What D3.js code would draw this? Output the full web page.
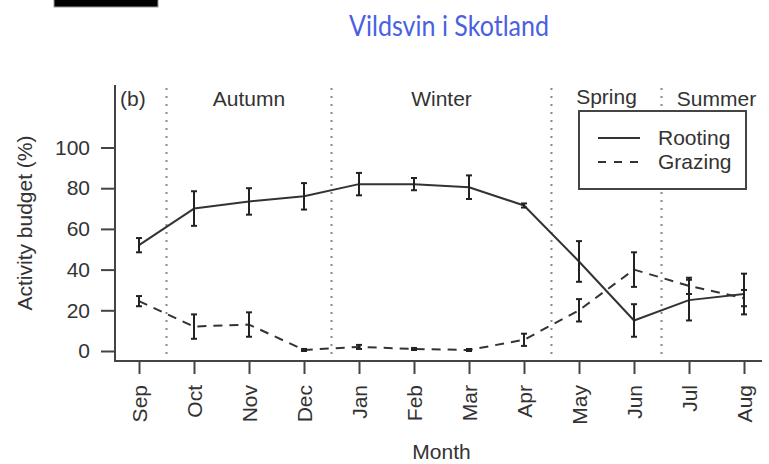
<!DOCTYPE html>
<html>
<head>
<meta charset="utf-8">
<script src="https://cdn.jsdelivr.net/npm/d3@7"></script>
<style>
  body { margin: 0; background: #fff; }
  svg text { font-family: "Liberation Sans", Arial, sans-serif; fill: #333; }
</style>
</head>
<body>
<div id="chart"></div>
<script>
// values (percent of activity budget)
const months = ["Sep", "Oct", "Nov", "Dec", "Jan", "Feb", "Mar", "Apr", "May", "Jun", "Jul", "Aug"];
const rooting = [52, 70, 73.5, 76, 82, 82, 80.5, 71.5, 44, 15, 25, 28];
const rootingErr = [3.5, 8.5, 6.5, 6.5, 5.5, 3, 5.8, 1, 10, 8, 10, 10];
const grazing = [24.5, 12, 13, 0.5, 2, 1, 0.5, 5.5, 20, 40, 32, 26];
const grazingErr = [2.5, 6, 6, 0.5, 1, 0.5, 0.5, 3, 5.5, 8.5, 4, 4];
const yTicks = [0, 20, 40, 60, 80, 100];
const seasonNames = ["Autumn", "Winter", "Spring", "Summer"];
const seasonStart = ["Oct", "Jan", "May", "Jul"];
const seasonEnd = ["Dec", "Apr", "Jun", "Aug"];
const seriesNames = ["Rooting", "Grazing"];

var width = 769,
  height = 464,
  ink = "#333",
  fontSize = "21px";

var svg = d3.select("#chart")
  .append("svg")
  .attr("width", width)
  .attr("height", height);

// black block in the top left corner of the screenshot
svg.append("rect")
  .attr("x", 54).attr("y", -2)
  .attr("width", 104).attr("height", 9)
  .attr("fill", "#000")
  .attr("stroke", "#999");

svg.append("text")
  .attr("x", 449)
  .attr("y", 36)
  .attr("text-anchor", "middle")
  .attr("textLength", 200)
  .attr("lengthAdjust", "spacingAndGlyphs")
  .style("font-family", "Lato, 'Open Sans', sans-serif")
  .style("font-size", "29px")
  .style("fill", "#4a60e2")
  .text("Vildsvin i Skotland");

var x = d3.scalePoint().domain(months).range([139, 744]);
var y = d3.scaleLinear().domain([0, 100]).range([351, 147.5]);
var step = x.step();

// plot frame (L shaped, like R bty="l")
svg.append("path")
  .attr("d", d3.line()([[115, 85], [115, 361], [762, 361]]))
  .attr("fill", "none")
  .attr("stroke", "#444")
  .attr("stroke-width", 2);

// y axis
var yAxis = svg.append("g")
  .attr("transform", "translate(115,0)")
  .call(d3.axisLeft(y).tickValues(yTicks).tickSize(14).tickPadding(11));
yAxis.select(".domain").remove();
yAxis.selectAll(".tick line").attr("stroke", "#444").attr("stroke-width", 2);
yAxis.selectAll(".tick text").style("font-size", fontSize).style("font-family", null).attr("fill", ink);

// x axis
var xAxis = svg.append("g")
  .attr("transform", "translate(0,361)")
  .call(d3.axisBottom(x).tickSize(13).tickPadding(0));
xAxis.select(".domain").remove();
xAxis.selectAll(".tick line").attr("stroke", "#444").attr("stroke-width", 2);
xAxis.selectAll(".tick text")
  .style("font-size", fontSize).style("font-family", null)
  .attr("fill", ink)
  .attr("text-anchor", "end")
  .attr("transform", "translate(0,24) rotate(-90)")
  .attr("x", 0)
  .attr("y", 0)
  .attr("dy", "0.35em");

svg.append("text")
  .attr("x", (x("Sep") + x("Aug")) / 2)
  .attr("y", 459)
  .attr("text-anchor", "middle")
  .style("font-size", fontSize)
  .text("Month");

svg.append("text")
  .attr("transform", "translate(32,223) rotate(-90)")
  .attr("text-anchor", "middle")
  .style("font-size", fontSize)
  .text("Activity budget (%)");

svg.append("text")
  .attr("x", 120).attr("y", 106)
  .style("font-size", fontSize)
  .text("(b)");

// season dividers and labels
seasonStart.forEach(function (m, i) {
  var xd = x(m) - step / 2;
  svg.append("line")
    .attr("x1", xd).attr("x2", xd)
    .attr("y1", 88).attr("y2", 360)
    .attr("stroke", "#888")
    .attr("stroke-width", 2)
    .attr("stroke-dasharray", "2,6");
  svg.append("text")
    .attr("x", (x(m) + x(seasonEnd[i])) / 2)
    .attr("y", seasonNames[i] == "Spring" ? 104 : 106)
    .attr("text-anchor", "middle")
    .style("font-size", fontSize)
    .text(seasonNames[i]);
});

function drawSeries(vals, errs, dash) {
  var pts = months.map(function (m, i) { return [x(m), y(vals[i])]; });
  svg.append("path")
    .attr("d", d3.line()(pts))
    .attr("fill", "none")
    .attr("stroke", ink)
    .attr("stroke-width", 2)
    .attr("stroke-linejoin", "round")
    .attr("stroke-dasharray", dash);

  var bars = svg.append("g").attr("stroke", "#222").attr("stroke-width", 2);
  months.forEach(function (m, i) {
    var cx = x(m),
      top = y(vals[i] + errs[i]),
      bot = y(vals[i] - errs[i]);
    bars.append("line").attr("x1", cx).attr("x2", cx).attr("y1", top).attr("y2", bot);
    bars.append("line").attr("x1", cx - 3).attr("x2", cx + 3).attr("y1", top).attr("y2", top);
    bars.append("line").attr("x1", cx - 3).attr("x2", cx + 3).attr("y1", bot).attr("y2", bot);
  });
}

drawSeries(rooting, rootingErr, null);
drawSeries(grazing, grazingErr, "9,7");

// legend
var legend = svg.append("g");
legend.append("rect")
  .attr("x", 579).attr("y", 111)
  .attr("width", 167).attr("height", 78)
  .attr("fill", "#fff")
  .attr("stroke", "#444")
  .attr("stroke-width", 2);
seriesNames.forEach(function (name, i) {
  var ly = 138 + i * 24;
  legend.append("line")
    .attr("x1", 598).attr("x2", 640)
    .attr("y1", ly).attr("y2", ly)
    .attr("stroke", ink)
    .attr("stroke-width", 2)
    .attr("stroke-dasharray", i == 0 ? null : "8,8");
  legend.append("text")
    .attr("x", 658).attr("y", ly)
    .attr("dy", "0.35em")
    .style("font-size", fontSize)
    .text(name);
});
</script>
</body>
</html>
